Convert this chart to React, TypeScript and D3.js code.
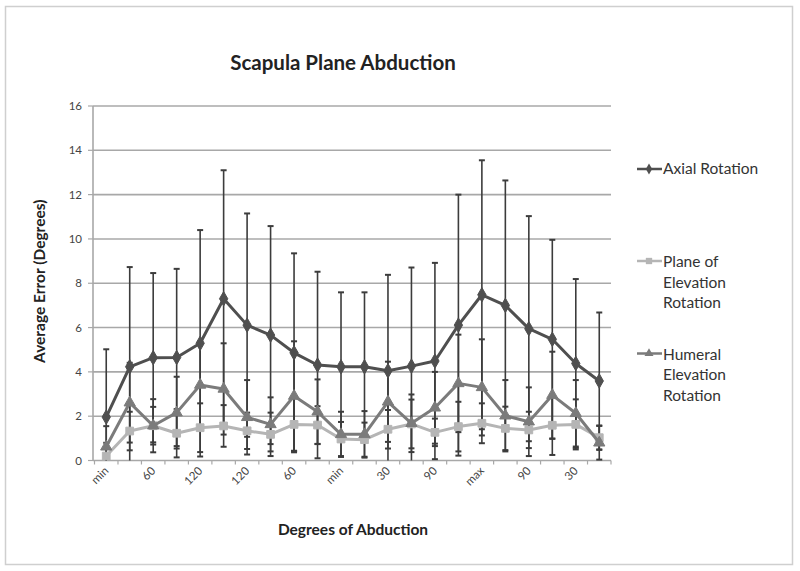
import React from "react";
import * as d3 from "d3";

const categories = ["min","30","60","90","120","max","120","90","60","30","min","min","30","60","90","120","max","120","90","60","30","min"];
const axialMean = [1.96,4.23,4.64,4.65,5.29,7.3,6.11,5.66,4.86,4.31,4.23,4.23,4.05,4.26,4.49,6.11,7.48,7.0,5.95,5.47,4.38,3.59];
const axialSD = [3.06,4.5,3.82,4.0,5.11,5.8,5.04,4.92,4.49,4.21,3.36,3.36,4.33,4.45,4.43,5.89,6.07,5.64,5.08,4.49,3.81,3.09];
const planeMean = [0.2,1.33,1.57,1.23,1.48,1.56,1.34,1.18,1.63,1.6,0.97,0.94,1.41,1.65,1.27,1.53,1.68,1.45,1.38,1.59,1.63,1.03];
const planeSD = [0.6,0.87,0.85,1.09,1.1,0.94,0.82,0.98,1.2,0.85,0.77,0.77,0.87,1.1,0.62,1.12,0.9,0.98,0.82,1.34,1.13,0.55];
const humeralMean = [0.62,2.61,1.57,2.16,3.41,3.23,1.95,1.63,2.91,2.2,1.18,1.18,2.65,1.68,2.38,3.48,3.3,2.02,1.75,2.95,2.13,0.8];
const humeralSD = [0.93,1.8,1.2,1.62,1.9,2.06,1.68,1.22,2.47,1.46,1.02,1.05,1.81,1.3,1.62,2.2,2.17,1.61,1.55,1.96,1.5,0.76];
const yTicks = [0,2,4,6,8,10,12,14,16];

const FONT = "Lato, 'Liberation Sans', sans-serif";

export default function App() {
  const W = 800, H = 571;
  const left = 93, right = 611, top = 106, bottom = 460.5;
  const idx = categories.map((_, i) => i);
  const x = d3.scaleBand<number>().domain(idx).range([left + 1.5, right]).padding(0);
  const cx = (i: number) => (x(i) as number) + x.bandwidth() / 2;
  const y = d3.scaleLinear().domain([0, 16]).range([bottom, top]);

  const series = [
    { name: "axial", mean: axialMean, sd: axialSD, color: "#4f4f4f", marker: "diamond" },
    { name: "plane", mean: planeMean, sd: planeSD, color: "#b5b5b5", marker: "square" },
    { name: "humeral", mean: humeralMean, sd: humeralSD, color: "#7b7b7b", marker: "triangle" },
  ];

  const line = (vals: number[]) =>
    d3.line<number>().x((_, i) => cx(i)).y((v) => y(v))(vals) as string;

  const sym = (type: string, size: number) => {
    const t = type === "diamond" ? d3.symbolDiamond : type === "square" ? d3.symbolSquare : d3.symbolTriangle;
    return d3.symbol().type(t).size(size)() as string;
  };

  const errBars = (mean: number[], sd: number[], color: string, key: string) =>
    mean.map((m, i) => {
      const hi = m + sd[i];
      const loRaw = m - sd[i];
      const lo = Math.max(0, loRaw);
      const X = cx(i);
      return (
        <g key={key + i} stroke={color} strokeWidth={1.6}>
          <line x1={X} x2={X} y1={y(hi)} y2={y(lo)} />
          <line x1={X - 3} x2={X + 3} y1={y(hi)} y2={y(hi)} strokeWidth={2} />
          {loRaw >= 0 && <line x1={X - 3} x2={X + 3} y1={y(lo)} y2={y(lo)} strokeWidth={2} />}
        </g>
      );
    });

  const boundaries = d3.range(categories.length + 1).map((i) => left + 1.5 + i * x.bandwidth());

  return (
    <svg width={W} height={H} style={{ display: "block", position: "absolute", left: 0, top: 0 }} fontFamily={FONT}>
      <rect x={0} y={0} width={W} height={H} fill="#fff" />
      <rect x={5.5} y={6.5} width={787} height={558} fill="none" stroke="#cfcfcf" strokeWidth={1.5} />
      <text x={343} y={70} textAnchor="middle" fontSize={20.5} fontWeight="bold" fill="#222">Scapula Plane Abduction</text>

      {yTicks.map((t) => (
        <g key={"g" + t}>
          <line x1={left} x2={right} y1={y(t)} y2={y(t)} stroke="#a8a8a8" strokeWidth={1.6} />
          <line x1={left - 5} x2={left} y1={y(t)} y2={y(t)} stroke="#a8a8a8" strokeWidth={1.2} />
          <text x={82} y={y(t) + 4} textAnchor="end" fontSize={11.5} fill="#444">{t}</text>
        </g>
      ))}
      <line x1={left} x2={left} y1={top} y2={bottom} stroke="#a8a8a8" strokeWidth={1.6} />
      {boundaries.map((b, i) => (
        <line key={"xt" + i} x1={b} x2={b} y1={bottom} y2={bottom + 4} stroke="#a8a8a8" strokeWidth={1.2} />
      ))}
      {categories.map((c, i) =>
        i % 2 === 0 ? (
          <text key={"xl" + i} transform={`translate(${cx(i) + 3},${bottom + 11}) rotate(-45)`} textAnchor="end" fontSize={11.5} fill="#444">{c}</text>
        ) : null
      )}

      <text transform={`translate(45,${(top + bottom) / 2 - 2}) rotate(-90)`} textAnchor="middle" fontSize={15.5} fontWeight="bold" fill="#222">Average Error (Degrees)</text>
      <text x={353} y={535} textAnchor="middle" fontSize={15.5} fontWeight="bold" fill="#222">Degrees of Abduction</text>

      {series.map((s) => errBars(s.mean, s.sd, "#3c3c3c", s.name))}
      {series.map((s) => (
        <g key={"s" + s.name}>
          <path d={line(s.mean)} fill="none" stroke={s.color} strokeWidth={3} strokeLinejoin="round" />
          {s.mean.map((v, i) => (
            <path key={i} d={sym(s.marker, s.marker === "triangle" ? 55 : 60)} transform={`translate(${cx(i)},${y(v)})`} fill={s.color} stroke={s.color} strokeWidth={1} />
          ))}
        </g>
      ))}

      {/* legend */}
      <g>
        <line x1={637} x2={662} y1={169} y2={169} stroke={series[0].color} strokeWidth={2.5} />
        <path d={sym("diamond", 35)} transform="translate(649,169)" fill={series[0].color} />
        <text x={663} y={174} fontSize={15.5} fill="#333">Axial Rotation</text>

        <line x1={637} x2={662} y1={261} y2={261} stroke={series[1].color} strokeWidth={2.5} />
        <path d={sym("square", 40)} transform="translate(649,261)" fill={series[1].color} />
        <text x={663} y={267} fontSize={15.5} fill="#333">Plane of</text>
        <text x={663} y={287.5} fontSize={15.5} fill="#333">Elevation</text>
        <text x={663} y={308} fontSize={15.5} fill="#333">Rotation</text>

        <line x1={637} x2={662} y1={353.5} y2={353.5} stroke={series[2].color} strokeWidth={2.5} />
        <path d={sym("triangle", 35)} transform="translate(649,353.5)" fill={series[2].color} />
        <text x={663} y={359.5} fontSize={15.5} fill="#333">Humeral</text>
        <text x={663} y={380} fontSize={15.5} fill="#333">Elevation</text>
        <text x={663} y={400.5} fontSize={15.5} fill="#333">Rotation</text>
      </g>
    </svg>
  );
}
